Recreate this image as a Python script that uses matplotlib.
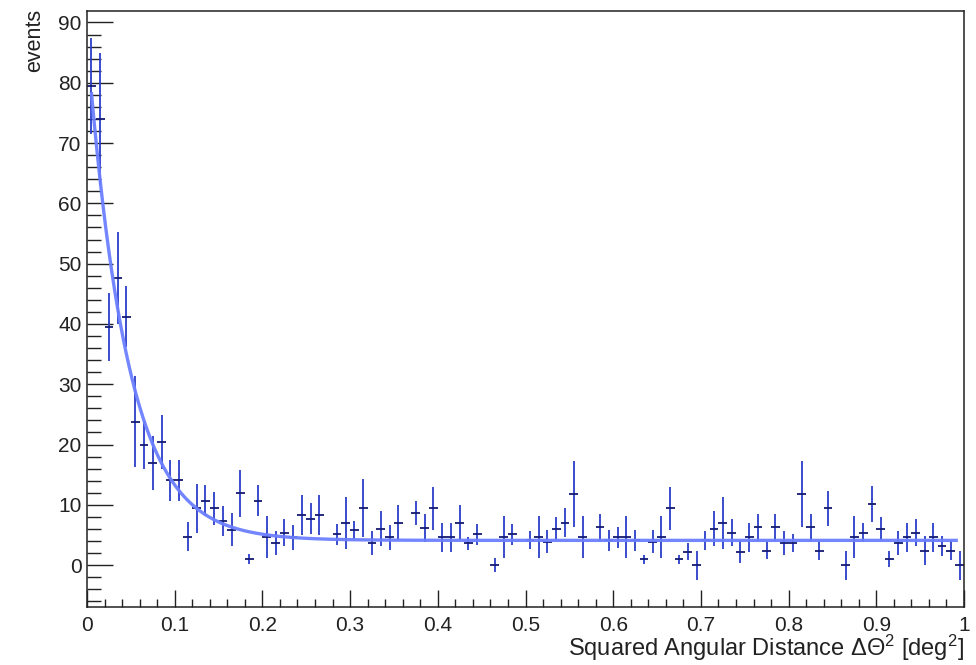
import numpy as np
import matplotlib
matplotlib.use("Agg")
import matplotlib.pyplot as plt
from matplotlib.ticker import MultipleLocator

# ---- data ----
bin_edges = np.linspace(0.0, 1.0, 101)
events = [79.5, 74.0, 39.5, 47.6, 41.2, 23.8, 19.9, 16.9, 20.4, 14.1,
          14.1, 4.7, 9.4, 10.7, 9.4, 7.3, 5.9, 11.9, 1.0, 10.7,
          4.6, 3.6, 5.4, 4.6, 8.3, 7.7, 8.3, np.nan, 5.1, 7.0,
          5.8, 9.4, 3.6, 6.0, 4.6, 7.0, np.nan, 8.7, 6.2, 9.4,
          4.6, 4.6, 7.0, 3.6, 5.1, np.nan, 0.0, 4.6, 5.1, np.nan,
          4.1, 4.6, 3.9, 6.0, 7.0, 11.8, 4.6, np.nan, 6.25, 4.1,
          4.6, 4.6, 4.1, 1.0, 3.9, 4.6, 9.4, 1.0, 2.2, 0.0,
          4.1, 6.0, 7.0, 5.4, 2.2, 4.6, 6.25, 2.4, 6.25, 3.6,
          3.6, 11.8, 6.25, 2.4, 9.4, np.nan, 0.0, 4.6, 5.4, 10.2,
          6.0, 1.0, 3.6, 4.6, 5.4, 2.4, 4.6, 3.15, 2.4, 0.0]
errors = [8.0, 11.0, 5.7, 7.6, 5.1, 7.6, 4.0, 4.5, 4.5, 3.4,
          3.4, 2.4, 4.0, 2.6, 2.7, 2.5, 2.7, 3.9, 0.8, 2.6,
          3.5, 2.0, 2.2, 2.1, 3.3, 2.6, 3.3, np.nan, 1.7, 4.3,
          1.5, 4.8, 2.0, 2.9, 2.1, 2.9, np.nan, 2.0, 2.3, 3.5,
          2.4, 2.4, 2.9, 1.1, 1.7, np.nan, 1.2, 3.5, 1.7, np.nan,
          1.5, 3.5, 1.9, 1.9, 2.4, 5.5, 3.5, np.nan, 2.3, 1.7,
          1.8, 3.5, 1.7, 0.75, 1.9, 3.5, 3.5, 0.75, 1.4, 2.4,
          1.6, 2.9, 4.3, 2.2, 1.9, 2.4, 2.3, 1.4, 2.3, 2.0,
          1.5, 5.5, 2.3, 1.5, 2.9, np.nan, 2.4, 3.5, 1.5, 3.0,
          1.9, 1.3, 2.0, 2.4, 2.2, 2.4, 2.4, 1.6, 1.6, 2.4]

# fit function parameters: A*exp(-k*x) + C
fit_amp = 83.0
fit_slope = 22.0
fit_const = 4.1
fit_range = (0.005, 0.993)

x_label = r"Squared Angular Distance $\Delta\Theta^{2}$ [deg$^{2}$]"
y_label = "events"
x_ticklabels = ['0', '0.1', '0.2', '0.3', '0.4', '0.5', '0.6', '0.7', '0.8', '0.9', '1']

# ---- style ----
plt.rcParams['font.family'] = ['Liberation Sans', 'DejaVu Sans']
plt.rcParams['mathtext.fontset'] = 'custom'
plt.rcParams['mathtext.rm'] = 'Liberation Sans'
plt.rcParams['mathtext.it'] = 'Liberation Sans:italic'
plt.rcParams['mathtext.bf'] = 'Liberation Sans:bold'

W, H = 976, 665
fig = plt.figure(figsize=(W / 100, H / 100), dpi=100)
ax = fig.add_axes([87 / W, 1 - 606.7 / H, (964 - 87) / W, (606.7 - 11) / H])

centers = 0.5 * (bin_edges[:-1] + bin_edges[1:])
half_w = 0.5 * np.diff(bin_edges)
ev = np.array(events, dtype=float)
er = np.array(errors, dtype=float)
ok = ~np.isnan(ev)

ax.errorbar(centers[ok], ev[ok], yerr=er[ok], fmt='none',
            ecolor='#2a3ec8', elinewidth=1.3, capsize=0, zorder=2)
ax.errorbar(centers[ok], ev[ok], xerr=half_w[ok], fmt='none',
            ecolor='#141a70', elinewidth=1.3, capsize=0, zorder=2)

xf = np.linspace(fit_range[0], fit_range[1], 600)
ax.plot(xf, fit_amp * np.exp(-fit_slope * xf) + fit_const,
        color='#6c80ff', lw=2.4, alpha=0.95, zorder=3, solid_capstyle='butt')

ax.set_xlim(0, 1)
ax.set_ylim(-6.9, 91.9)
ax.yaxis.set_major_locator(MultipleLocator(10))
ax.yaxis.set_minor_locator(MultipleLocator(2))
ax.set_xticks(np.linspace(0, 1, len(x_ticklabels)))
ax.set_xticklabels(x_ticklabels)
ax.xaxis.set_minor_locator(MultipleLocator(0.02))

tc = '#222222'
ax.tick_params(axis='x', which='major', direction='in', length=12.5, width=1.0,
               labelsize=15, pad=6.5, top=False, colors=tc)
ax.tick_params(axis='x', which='minor', direction='in', length=6, width=1.0, top=False,
               colors=tc)
ax.tick_params(axis='y', which='major', direction='in', length=19, width=1.0,
               labelsize=15, pad=4, right=False, colors=tc)
ax.tick_params(axis='y', which='minor', direction='in', length=10, width=1.0, right=False,
               colors=tc)
for s in ax.spines.values():
    s.set_linewidth(1.1)
    s.set_color(tc)

fig.text(964 / W, 1 - 656 / H, x_label, ha='right', va='baseline',
         fontsize=17, color=tc)
fig.text(35 / W, 1 - 9 / H, y_label, ha='center', va='top', rotation=90,
         fontsize=15.5, color=tc)

fig.savefig('out.png', dpi=100)
